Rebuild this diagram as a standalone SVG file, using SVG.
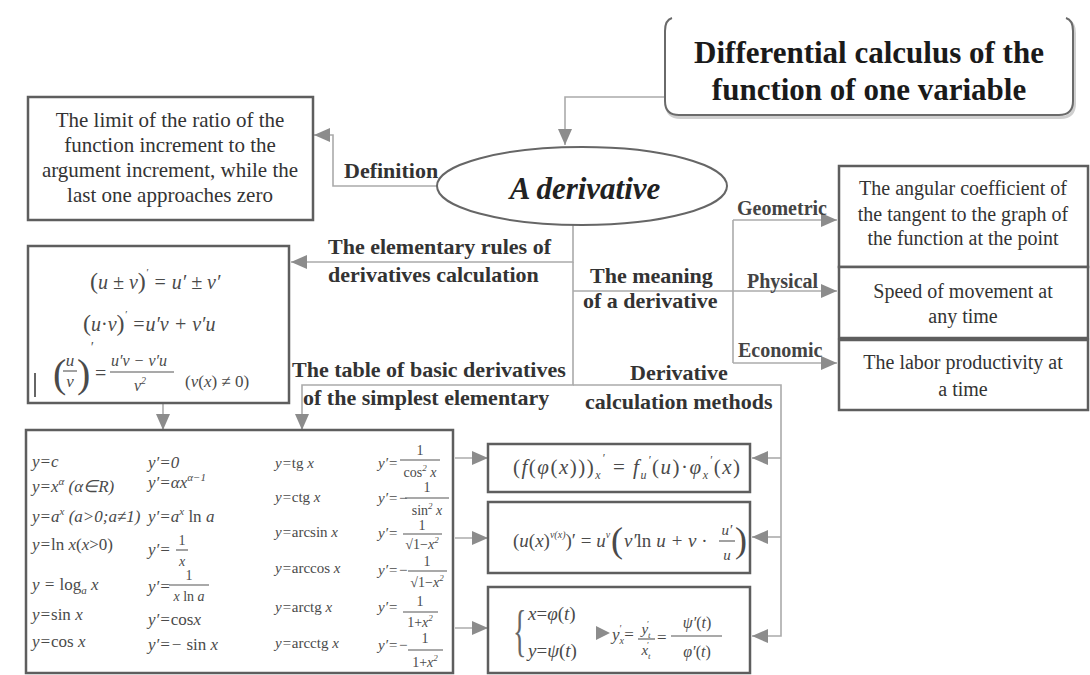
<svg xmlns="http://www.w3.org/2000/svg" width="1090" height="675" viewBox="0 0 1090 675">
<defs>
<marker id="ah" viewBox="0 0 16 16" refX="16" refY="8" markerWidth="16" markerHeight="16" markerUnits="userSpaceOnUse" orient="auto"><path d="M0,1 L16,8 L0,15 z" fill="#8c8c8c"/></marker>
<style>
.box{fill:#fff;stroke:#5e5e5e;stroke-width:2.5}
.con{fill:none;stroke:#ababab;stroke-width:1.6}
.arr{marker-end:url(#ah)}
.lbl{font-family:"Liberation Serif",serif;font-weight:bold;font-size:22px;fill:#333}
.lbs{font-family:"Liberation Serif",serif;font-weight:bold;font-size:20px;fill:#444}
.txt{font-family:"Liberation Serif",serif;font-size:21px;fill:#333;text-anchor:middle}
.rt{font-family:"Liberation Serif",serif;font-size:20px;fill:#333;text-anchor:middle}
.m{font-family:"Liberation Serif",serif;font-style:italic;fill:#4a4a4a}
.r{font-style:normal}
.f20{font-size:20px}.f19{font-size:19px}.f17{font-size:17px}.f16{font-size:16px}.f15{font-size:15px}.f14{font-size:14px}
.mid{text-anchor:middle}
.fl{stroke:#555;stroke-width:1.1}
</style>
</defs>
<rect width="1090" height="675" fill="#fff"/>

<g id="connectors">
<path class="con arr" d="M665,97 H565 V145"/>
<path class="con arr" d="M438,186 H333 V135 H314"/>
<path class="con arr" d="M573,225 V262 H291"/>
<path class="con arr" d="M573,262 V385 H302 V430"/>
<path class="con arr" d="M573,291 H837"/>
<path class="con" d="M733,220 V363"/>
<path class="con arr" d="M733,220 H837"/>
<path class="con arr" d="M733,363 H837"/>
<path class="con arr" d="M573,385 H781 V636 H752"/>
<path class="con arr" d="M781,458 H752"/>
<path class="con arr" d="M781,537 H752"/>
<path class="con arr" d="M163,404 V430"/>
<path class="con arr" d="M455,458 H488"/>
<path class="con arr" d="M455,538 H488"/>
<path class="con arr" d="M455,628 H488"/>
<text class="lbl" x="344" y="178" font-size="21">Definition</text>
<text class="lbl" x="328" y="254">The elementary rules of</text>
<text class="lbl" x="328" y="282">derivatives calculation</text>
<text class="lbl" x="590" y="283">The meaning</text>
<text class="lbl" x="583" y="308">of a derivative</text>
<text class="lbl" x="292" y="377">The table of basic derivatives</text>
<text class="lbl" x="303" y="405">of the simplest elementary</text>
<text class="lbl" x="630" y="380">Derivative</text>
<text class="lbl" x="585" y="409">calculation methods</text>
<text class="lbs" x="737" y="215">Geometric</text>
<text class="lbs" x="747" y="288">Physical</text>
<text class="lbs" x="738" y="357">Economic</text>
</g>

<g id="title">
<path d="M672,19 Q665,21 665,32 V102 Q665,116 679,116 H1059 Q1073,116 1073,102 V32 Q1073,21 1066,19" fill="none" stroke="#cfcfcf" stroke-width="3" transform="translate(1.5,1.5)"/>
<path d="M672,18 Q665,20 665,31 V101 Q665,115 679,115 H1059 Q1073,115 1073,101 V31 Q1073,20 1066,18" fill="#fff" stroke="#6a6a6a" stroke-width="2"/>
<text x="869" y="63" font-family="Liberation Serif, serif" font-weight="bold" font-size="31" fill="#1a1a1a" text-anchor="middle">Differential calculus of the</text>
<text x="869" y="100" font-family="Liberation Serif, serif" font-weight="bold" font-size="31" fill="#1a1a1a" text-anchor="middle">function of one variable</text>
</g>

<g id="derivative">
<ellipse cx="582" cy="186" rx="145" ry="39" fill="#fff" stroke="#666" stroke-width="2"/>
<text x="585" y="199" font-family="Liberation Serif, serif" font-weight="bold" font-style="italic" font-size="31" fill="#222" text-anchor="middle">A derivative</text>
</g>

<g id="definition">
<rect class="box" x="28" y="97" width="285" height="123"/>
<text class="txt" x="170" y="127">The limit of the ratio of the</text>
<text class="txt" x="170" y="152">function increment to the</text>
<text class="txt" x="170" y="177">argument increment, while the</text>
<text class="txt" x="170" y="202">last one approaches zero</text>
</g>

<g id="geometric">
<rect class="box" x="839" y="166" width="249" height="101"/>
<text class="rt" x="963" y="195">The angular coefficient of</text>
<text class="rt" x="963" y="221">the tangent to the graph of</text>
<text class="rt" x="963" y="245">the function at the point</text>
</g>
<g id="physical">
<rect class="box" x="839" y="267" width="249" height="71"/>
<text class="rt" x="963" y="298">Speed of movement at</text>
<text class="rt" x="963" y="323">any time</text>
</g>
<g id="economic">
<rect class="box" x="839" y="340" width="249" height="70"/>
<text class="rt" x="963" y="369">The labor productivity at</text>
<text class="rt" x="963" y="396">a time</text>
</g>

<g id="rules">
<rect class="box" x="28" y="246" width="261" height="157" stroke="#6a6a6a"/>
<text class="m f20" x="90" y="289"><tspan class="r" font-size="24">(</tspan>u ± v<tspan class="r" font-size="24">)</tspan><tspan dy="-13" font-size="11">′</tspan><tspan dy="13"> = u′ ± v′</tspan></text>
<text class="m f20" x="83" y="331"><tspan class="r" font-size="24">(</tspan>u<tspan class="r">·</tspan>v<tspan class="r" font-size="24">)</tspan><tspan dy="-13" font-size="11">′</tspan><tspan dy="13"> =u′v + v′u</tspan></text>
<text class="m" x="53" y="387" font-size="40"><tspan class="r">(</tspan></text>
<text class="m f17 mid" x="70" y="366">u</text>
<line class="fl" x1="63" y1="371" x2="77" y2="371"/>
<text class="m f17 mid" x="70" y="387">v</text>
<text class="m" x="77" y="387" font-size="40"><tspan class="r">)</tspan></text>
<text class="m f14" x="90" y="352">′</text>
<text class="m f20" x="95" y="380"><tspan class="r">=</tspan></text>
<text class="m f16" x="111" y="366">u′v − v′u</text>
<line class="fl" x1="110" y1="372" x2="174" y2="372"/>
<text class="m f16" x="134" y="391">v<tspan dy="-7" font-size="10">2</tspan></text>
<text class="m f17" x="185" y="387"><tspan class="r">(</tspan>v<tspan class="r">(</tspan>x<tspan class="r">) ≠ 0)</tspan></text>
<line x1="35" y1="373" x2="35" y2="397" stroke="#666" stroke-width="2"/>
</g>

<g id="table">
<rect class="box" x="26" y="430" width="427" height="243" stroke="#666"/>
<g class="m f17">
<text x="32" y="467">y=c</text>
<text x="32" y="492">y=x<tspan dy="-7" font-size="11">α</tspan><tspan dy="7"> (α∈R)</tspan></text>
<text x="32" y="522">y=a<tspan dy="-7" font-size="11">x</tspan><tspan dy="7"> (a&gt;0;a≠1)</tspan></text>
<text x="32" y="550">y=<tspan class="r">ln</tspan> x<tspan class="r">(</tspan>x<tspan class="r">&gt;0)</tspan></text>
<text x="32" y="590">y = <tspan class="r">log</tspan><tspan dy="4" font-size="11">a</tspan><tspan dy="-4"> x</tspan></text>
<text x="32" y="620">y=<tspan class="r">sin</tspan> x</text>
<text x="32" y="647">y=<tspan class="r">cos</tspan> x</text>
<text x="148" y="468">y′=0</text>
<text x="148" y="488">y′=αx<tspan dy="-7" font-size="11">α−1</tspan></text>
<text x="148" y="522">y′=a<tspan dy="-7" font-size="11">x</tspan><tspan dy="7"> <tspan class="r">ln</tspan> a</tspan></text>
<text x="148" y="555">y′=</text>
<text x="148" y="592">y′=</text>
<text x="148" y="625">y′=<tspan class="r">cos</tspan>x</text>
<text x="148" y="650">y′=− <tspan class="r">sin</tspan> x</text>
</g>
<text class="m f14 mid" x="182" y="545"><tspan class="r">1</tspan></text>
<line class="fl" x1="176" y1="550" x2="188" y2="550"/>
<text class="m f14 mid" x="182" y="566">x</text>
<text class="m f14 mid" x="189" y="580"><tspan class="r">1</tspan></text>
<line class="fl" x1="169" y1="585" x2="209" y2="585"/>
<text class="m f14 mid" x="189" y="601">x <tspan class="r">ln</tspan> a</text>
<g class="m f15">
<text x="275" y="468">y=<tspan class="r">tg</tspan> x</text>
<text x="275" y="502">y=<tspan class="r">ctg</tspan> x</text>
<text x="275" y="537">y=<tspan class="r">arcsin</tspan> x</text>
<text x="275" y="573">y=<tspan class="r">arccos</tspan> x</text>
<text x="275" y="612">y=<tspan class="r">arctg</tspan> x</text>
<text x="275" y="648">y=<tspan class="r">arcctg</tspan> x</text>
<text x="378" y="468">y′=</text>
<text x="378" y="503">y′=−</text>
<text x="378" y="538">y′=</text>
<text x="378" y="575">y′=−</text>
<text x="378" y="612">y′=</text>
<text x="378" y="650">y′=−</text>
</g>
<g class="m f14 mid">
<text x="420" y="455"><tspan class="r">1</tspan></text>
<text x="420" y="477"><tspan class="r">cos</tspan><tspan dy="-6" font-size="9">2</tspan><tspan dy="6"> x</tspan></text>
<text x="427" y="492"><tspan class="r">1</tspan></text>
<text x="427" y="515"><tspan class="r">sin</tspan><tspan dy="-6" font-size="9">2</tspan><tspan dy="6"> x</tspan></text>
<text x="422" y="530"><tspan class="r">1</tspan></text>
<text x="422" y="549"><tspan class="r">√1−</tspan>x<tspan dy="-6" font-size="9">2</tspan></text>
<text x="427" y="566"><tspan class="r">1</tspan></text>
<text x="427" y="587"><tspan class="r">√1−</tspan>x<tspan dy="-6" font-size="9">2</tspan></text>
<text x="420" y="606"><tspan class="r">1</tspan></text>
<text x="420" y="627"><tspan class="r">1+</tspan>x<tspan dy="-6" font-size="9">2</tspan></text>
<text x="425" y="643"><tspan class="r">1</tspan></text>
<text x="425" y="667"><tspan class="r">1+</tspan>x<tspan dy="-6" font-size="9">2</tspan></text>
</g>
<line class="fl" x1="400" y1="460" x2="440" y2="460"/>
<line class="fl" x1="405" y1="498" x2="449" y2="498"/>
<line class="fl" x1="403" y1="534" x2="442" y2="534"/>
<line class="fl" x1="408" y1="571" x2="447" y2="571"/>
<line class="fl" x1="403" y1="612" x2="438" y2="612"/>
<line class="fl" x1="408" y1="650" x2="443" y2="650"/>
</g>

<g id="method1">
<rect class="box" x="488" y="444" width="262" height="48" stroke="#666"/>
<text class="m" font-size="21" letter-spacing="1.5" x="513" y="474"><tspan class="r">(</tspan>f<tspan class="r">(</tspan>φ<tspan class="r">(</tspan>x<tspan class="r">)))</tspan><tspan dy="5" font-size="12">x</tspan><tspan dy="-17" font-size="12">′</tspan><tspan dy="12" class="r">  =  </tspan>f<tspan dy="5" font-size="12">u</tspan><tspan dy="-15" font-size="12">′</tspan><tspan dy="10" class="r">(</tspan>u<tspan class="r">)·</tspan>φ<tspan dy="5" font-size="12">x</tspan><tspan dy="-15" font-size="12">′</tspan><tspan dy="10" class="r">(</tspan>x<tspan class="r">)</tspan></text>
</g>

<g id="method2">
<rect class="box" x="488" y="502" width="262" height="71" stroke="#666"/>
<text class="m f19" x="513" y="547"><tspan class="r">(</tspan>u<tspan class="r">(</tspan>x<tspan class="r">)</tspan><tspan dy="-9" font-size="10">v(x)</tspan><tspan dy="9" class="r">)′ = </tspan>u<tspan dy="-9" font-size="10">v</tspan></text>
<text class="m" x="611" y="552" font-size="36"><tspan class="r">(</tspan></text>
<text class="m f19" x="624" y="547">v′<tspan class="r">ln</tspan> u + v<tspan class="r"> ·</tspan></text>
<text class="m f15 mid" x="727" y="535">u′</text>
<line class="fl" x1="719" y1="541" x2="735" y2="541"/>
<text class="m f15 mid" x="727" y="560">u</text>
<text class="m" x="735" y="552" font-size="36"><tspan class="r">)</tspan></text>
</g>

<g id="method3">
<rect class="box" x="488" y="587" width="262" height="86" stroke="#666"/>
<text transform="translate(513,650) scale(0.5,1)" font-family="Liberation Serif, serif" font-size="56" fill="#666">{</text>
<text class="m f19" x="528" y="620">x<tspan class="r">=</tspan>φ<tspan class="r">(</tspan>t<tspan class="r">)</tspan></text>
<text class="m f19" x="528" y="657">y<tspan class="r">=</tspan>ψ<tspan class="r">(</tspan>t<tspan class="r">)</tspan></text>
<polygon points="596,626 610,633 596,640" fill="#8c8c8c"/>
<text class="m f17" x="612" y="640">y<tspan dy="4" font-size="10">x</tspan><tspan dy="-12" font-size="10" dx="-5">′</tspan><tspan dy="8" class="r" dx="3">=</tspan></text>
<text class="m f15 mid" x="646" y="634">y<tspan dy="4" font-size="9">t</tspan><tspan dy="-11" font-size="9" dx="-4">′</tspan></text>
<line class="fl" x1="638" y1="639" x2="655" y2="639"/>
<text class="m f15 mid" x="646" y="655">x<tspan dy="4" font-size="9">t</tspan><tspan dy="-11" font-size="9" dx="-4">′</tspan></text>
<text class="m f17" x="657" y="643"><tspan class="r">=</tspan></text>
<text class="m f16 mid" x="697" y="628">ψ′<tspan class="r">(</tspan>t<tspan class="r">)</tspan></text>
<line class="fl" x1="671" y1="636" x2="722" y2="636"/>
<text class="m f16 mid" x="697" y="657">φ′<tspan class="r">(</tspan>t<tspan class="r">)</tspan></text>
</g>
</svg>
